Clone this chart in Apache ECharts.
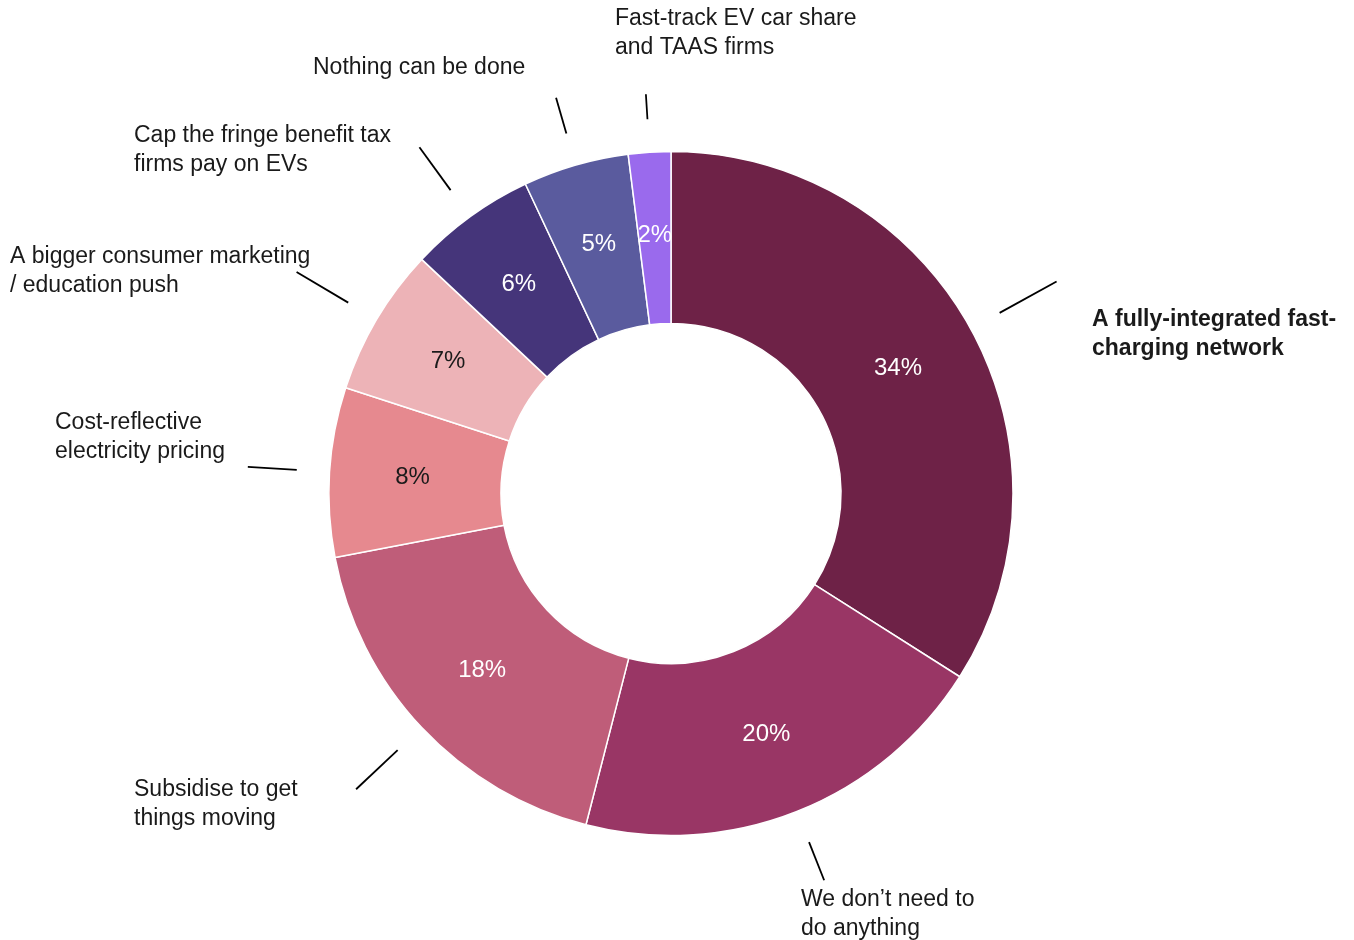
<!DOCTYPE html>
<html>
<head>
<meta charset="utf-8">
<script src="https://cdn.jsdelivr.net/npm/echarts@6/dist/echarts.min.js"></script>
<style>
  html, body { margin: 0; padding: 0; background: #ffffff; }
  #chart { width: 1354px; height: 940px; }
</style>
</head>
<body>
<div id="chart"></div>
<script>
// Survey answers, clockwise from 12 o'clock
const categories = [
  'A fully-integrated fast-\ncharging network',
  'We don’t need to\ndo anything',
  'Subsidise to get\nthings moving',
  'Cost-reflective\nelectricity pricing',
  'A bigger consumer marketing\n/ education push',
  'Cap the fringe benefit tax\nfirms pay on EVs',
  'Nothing can be done',
  'Fast-track EV car share\nand TAAS firms'
];
const shares = [34, 20, 18, 8, 7, 6, 5, 2];

// Styling
const sliceColors = ['#6e2247', '#993665', '#bf5d79', '#e6898f', '#edb3b7', '#45357a', '#5a5b9e', '#9a6aed'];
const valueLabelColors = ['#ffffff', '#ffffff', '#ffffff', '#1a1a1a', '#1a1a1a', '#ffffff', '#ffffff', '#ffffff'];
const leaderLength = [65, 41, 57, 49, 60, 53, 37, 25];
const calloutAnchor = [[1092, 334], [801, 914], [134, 804], [55, 437], [10, 271], [134, 150], [313, 68], [615, 33]];
const calloutWeight = ['bold', 'normal', 'normal', 'normal', 'normal', 'normal', 'normal', 'normal'];

const FONT = '"Liberation Sans", Arial, sans-serif';
const CENTER = [671, 493.5];

const chart = echarts.init(document.getElementById('chart'), null, { renderer: 'canvas' });

const mainData = shares.map((v, i) => ({
  name: categories[i],
  value: v,
  itemStyle: { color: sliceColors[i] },
  label: { color: valueLabelColors[i] }
}));

const leaderData = shares.map((v, i) => ({
  name: categories[i],
  value: v,
  labelLine: { length: leaderLength[i] }
}));

const calloutData = shares.map((v, i) => ({
  name: categories[i],
  value: v,
  label: { fontWeight: calloutWeight[i] }
}));

chart.setOption({
  animation: false,
  series: [
    {
      // donut with percentages inside each slice
      type: 'pie',
      center: CENTER,
      radius: [170, 342],
      startAngle: 90,
      clockwise: true,
      avoidLabelOverlap: false,
      itemStyle: { borderColor: '#ffffff', borderWidth: 1.5 },
      label: {
        show: true,
        position: 'inside',
        formatter: '{c}%',
        fontFamily: FONT,
        fontSize: 24,
        fontWeight: 'normal'
      },
      labelLine: { show: false },
      emphasis: { disabled: true },
      data: mainData,
      z: 3
    },
    {
      // detached leader lines around the donut
      type: 'pie',
      center: CENTER,
      radius: [374, 375],
      startAngle: 90,
      clockwise: true,
      silent: true,
      avoidLabelOverlap: false,
      itemStyle: { color: 'rgba(0,0,0,0)', borderWidth: 0 },
      label: { show: true, position: 'outside', formatter: '' },
      labelLine: {
        show: true,
        length: 50,
        length2: 0,
        smooth: false,
        lineStyle: { color: '#000000', width: 1.8 }
      },
      emphasis: { disabled: true },
      data: leaderData,
      z: 2
    },
    {
      // category captions
      type: 'pie',
      center: CENTER,
      radius: [0, 1],
      startAngle: 90,
      clockwise: true,
      silent: true,
      avoidLabelOverlap: false,
      itemStyle: { color: 'rgba(0,0,0,0)', borderWidth: 0 },
      label: {
        show: true,
        position: 'outside',
        formatter: '{b}',
        fontFamily: FONT,
        fontSize: 23,
        lineHeight: 29,
        color: '#1a1a1a'
      },
      labelLine: { show: false },
      labelLayout: (p) => ({
        x: calloutAnchor[p.dataIndex][0],
        y: calloutAnchor[p.dataIndex][1],
        align: 'left',
        verticalAlign: 'middle'
      }),
      emphasis: { disabled: true },
      data: calloutData,
      z: 1
    }
  ]
});
</script>
</body>
</html>
